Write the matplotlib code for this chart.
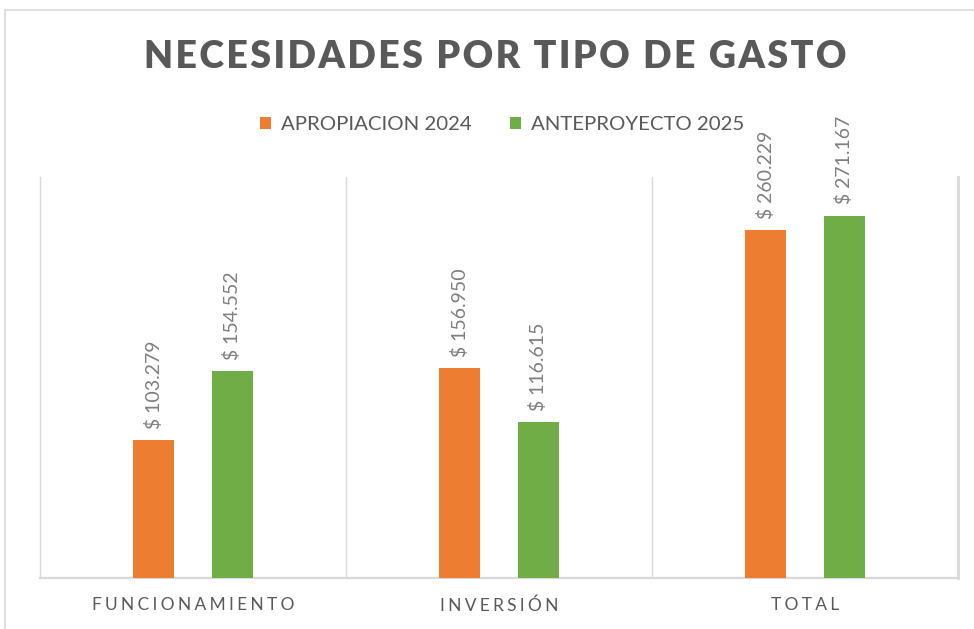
"""Necesidades por tipo de gasto: apropiacion 2024 vs anteproyecto 2025."""

import matplotlib

matplotlib.use("Agg")

import matplotlib.pyplot as plt  # noqa: E402
import numpy as np  # noqa: E402
from matplotlib.patches import Rectangle  # noqa: E402


CATEGORIES = ["FUNCIONAMIENTO", "INVERSIÓN", "TOTAL"]
APROPIACION_2024 = [103.279, 156.950, 260.229]
ANTEPROYECTO_2025 = [154.552, 116.615, 271.167]
SERIES_LABELS = ["APROPIACION 2024", "ANTEPROYECTO 2025"]
TITLE = "NECESIDADES POR TIPO DE GASTO"

ORANGE = "#ED7D31"
GREEN = "#70AD47"
TEXT_GRAY = "#595959"
LABEL_GRAY = "#7F7F7F"
GRID_GRAY = "#D9D9D9"
FONTS = ["Lato", "DejaVu Sans"]


def spaced(text: str, sep: str = "\u2009") -> str:
    return sep.join(text)


def fmt_value(value: float) -> str:
    return f"$ {value:.3f}"


def main() -> None:
    plt.rcParams["font.family"] = FONTS
    fig = plt.figure(figsize=(9.74, 6.29), dpi=100)
    W, H = 974, 629
    ax = fig.add_axes((40 / W, 1 - 578 / H, (958 - 40) / W, (578 - 177) / H))

    x = np.arange(len(CATEGORIES), dtype=float)
    width = 0.137
    offset = 0.129
    bars_a = ax.bar(x - offset, APROPIACION_2024, width, color=ORANGE,
                    label=SERIES_LABELS[0], zorder=3)
    bars_b = ax.bar(x + offset, ANTEPROYECTO_2025, width, color=GREEN,
                    label=SERIES_LABELS[1], zorder=3)

    for bars, values in ((bars_a, APROPIACION_2024), (bars_b, ANTEPROYECTO_2025)):
        for bar, value in zip(bars, values):
            ax.annotate(
                fmt_value(value),
                (bar.get_x() + bar.get_width() / 2, bar.get_height()),
                xytext=(0, 8),
                textcoords="offset points",
                rotation=90,
                ha="center",
                va="bottom",
                fontsize=14,
                color=LABEL_GRAY,
            )

    ax.set_xlim(-0.5, 2.5)
    ax.set_ylim(0, 300)
    ax.set_yticks([])
    ax.set_xticks(x)
    ax.set_xticklabels([spaced(c, "\u2009\u200a") for c in CATEGORIES],
                       fontsize=12.5, color=TEXT_GRAY)
    ax.tick_params(axis="x", length=0, pad=14)
    for sep in (0.5, 1.5):
        ax.axvline(sep, color=GRID_GRAY, linewidth=1, zorder=1)
    ax.spines["top"].set_visible(False)
    for side in ("left", "right", "bottom"):
        ax.spines[side].set_color(GRID_GRAY)
    ax.spines["left"].set_linewidth(1)
    ax.spines["right"].set_linewidth(2)
    ax.spines["bottom"].set_linewidth(1.6)

    fig.text(
        495 / W, 1 - 57 / H, spaced(TITLE, "\u200a"),
        ha="center", va="center", fontsize=27, fontweight="heavy",
        color=TEXT_GRAY,
    )

    fig.legend(
        loc="center",
        bbox_to_anchor=(502 / W, 1 - 125 / H),
        ncol=2,
        frameon=False,
        fontsize=14.7,
        labelcolor=TEXT_GRAY,
        handlelength=0.55,
        handleheight=0.55,
        handletextpad=0.45,
        columnspacing=1.9,
    )

    fig.patches.append(
        Rectangle((5 / W, -0.1), 1.2, 1.1 - 10 / H, transform=fig.transFigure,
                  fill=False, edgecolor=GRID_GRAY, linewidth=1.2)
    )

    fig.savefig("out.png", dpi=100, facecolor="white")
    plt.close(fig)


if __name__ == "__main__":
    main()
